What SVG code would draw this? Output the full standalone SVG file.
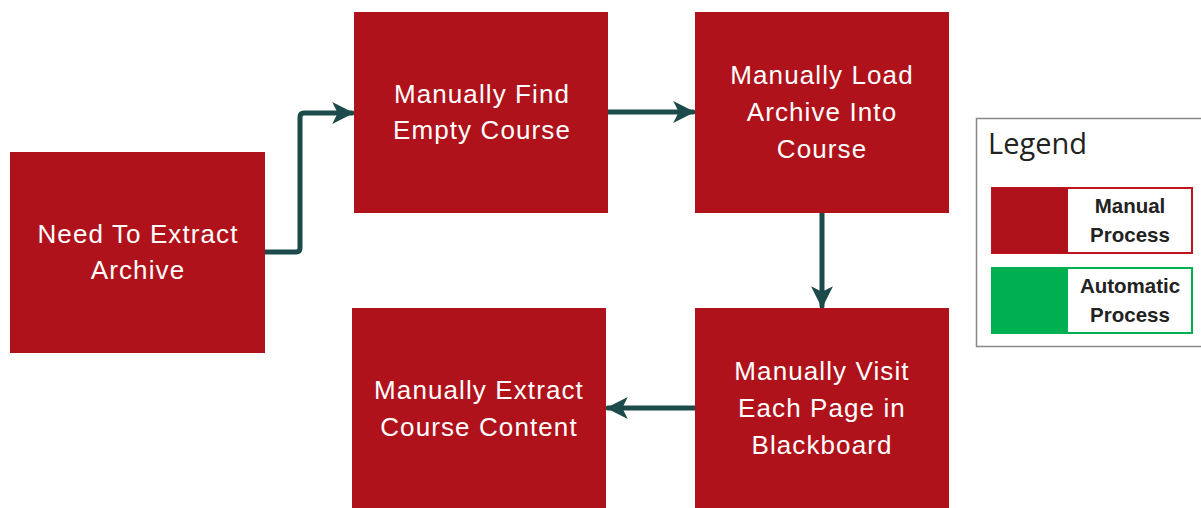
<svg xmlns="http://www.w3.org/2000/svg" width="1201" height="508" viewBox="0 0 1201 508">
<style>
.node{fill:#b0121b;}
.nt{fill:#ffffff;font-family:"Liberation Sans",Arial,sans-serif;font-size:26px;letter-spacing:1.1px;text-anchor:middle;}
.conn{fill:none;stroke:#1d4a4b;stroke-width:5;stroke-linejoin:round;stroke-linecap:round;}
.lt{font-family:"Liberation Sans",Arial,sans-serif;font-size:20.5px;font-weight:bold;fill:#222;text-anchor:middle;}
</style>
<defs>
<marker id="ah" viewBox="0 0 10 10" refX="9" refY="5" markerWidth="4.4" markerHeight="4.4" orient="auto" markerUnits="strokeWidth">
<path d="M0,0 L10,5 L0,10 L2.5,5 Z" fill="#1d4a4b"/>
</marker>
</defs>
<rect width="1201" height="508" fill="#ffffff"/>
<g id="connectors">
<path class="conn" d="M265,252 L296,252 Q300,252 300,248 L300,117 Q300,113 304,113 L352,113" marker-end="url(#ah)"/>
<path class="conn" d="M608,112 L693,112" marker-end="url(#ah)"/>
<path class="conn" d="M822,212 L822,306" marker-end="url(#ah)"/>
<path class="conn" d="M695,408 L608,408" marker-end="url(#ah)"/>
</g>
<g id="n1"><rect class="node" x="10" y="152" width="255" height="201"/>
<text class="nt"><tspan x="138" y="243">Need To Extract</tspan><tspan x="138" y="279">Archive</tspan></text></g>
<g id="n2"><rect class="node" x="354" y="12" width="254" height="201"/>
<text class="nt"><tspan x="482" y="103">Manually Find</tspan><tspan x="482" y="139">Empty Course</tspan></text></g>
<g id="n3"><rect class="node" x="695" y="12" width="254" height="201"/>
<text class="nt"><tspan x="822" y="84">Manually Load</tspan><tspan x="822" y="121">Archive Into</tspan><tspan x="822" y="158">Course</tspan></text></g>
<g id="n4"><rect class="node" x="695" y="308" width="254" height="210"/>
<text class="nt"><tspan x="822" y="380">Manually Visit</tspan><tspan x="822" y="417">Each Page in</tspan><tspan x="822" y="454">Blackboard</tspan></text></g>
<g id="n5"><rect class="node" x="352" y="308" width="254" height="210"/>
<text class="nt"><tspan x="479" y="399">Manually Extract</tspan><tspan x="479" y="436">Course Content</tspan></text></g>
<g id="legend">
<rect x="976.5" y="118.5" width="230" height="228" fill="#ffffff" stroke="#888" stroke-width="1.5"/>
<text x="988" y="154" font-family="'Open Sans','Liberation Sans',sans-serif" font-size="29" fill="#222">Legend</text>
<rect x="992" y="188" width="200" height="65" fill="#ffffff" stroke="#c0151f" stroke-width="2"/>
<rect x="992" y="188" width="76" height="65" fill="#b0121b"/>
<text class="lt"><tspan x="1130" y="213">Manual</tspan><tspan x="1130" y="242">Process</tspan></text>
<rect x="992" y="268" width="200" height="65" fill="#ffffff" stroke="#00b050" stroke-width="2"/>
<rect x="992" y="268" width="76" height="65" fill="#00b050"/>
<text class="lt"><tspan x="1130" y="293">Automatic</tspan><tspan x="1130" y="322">Process</tspan></text>
</g>
</svg>
